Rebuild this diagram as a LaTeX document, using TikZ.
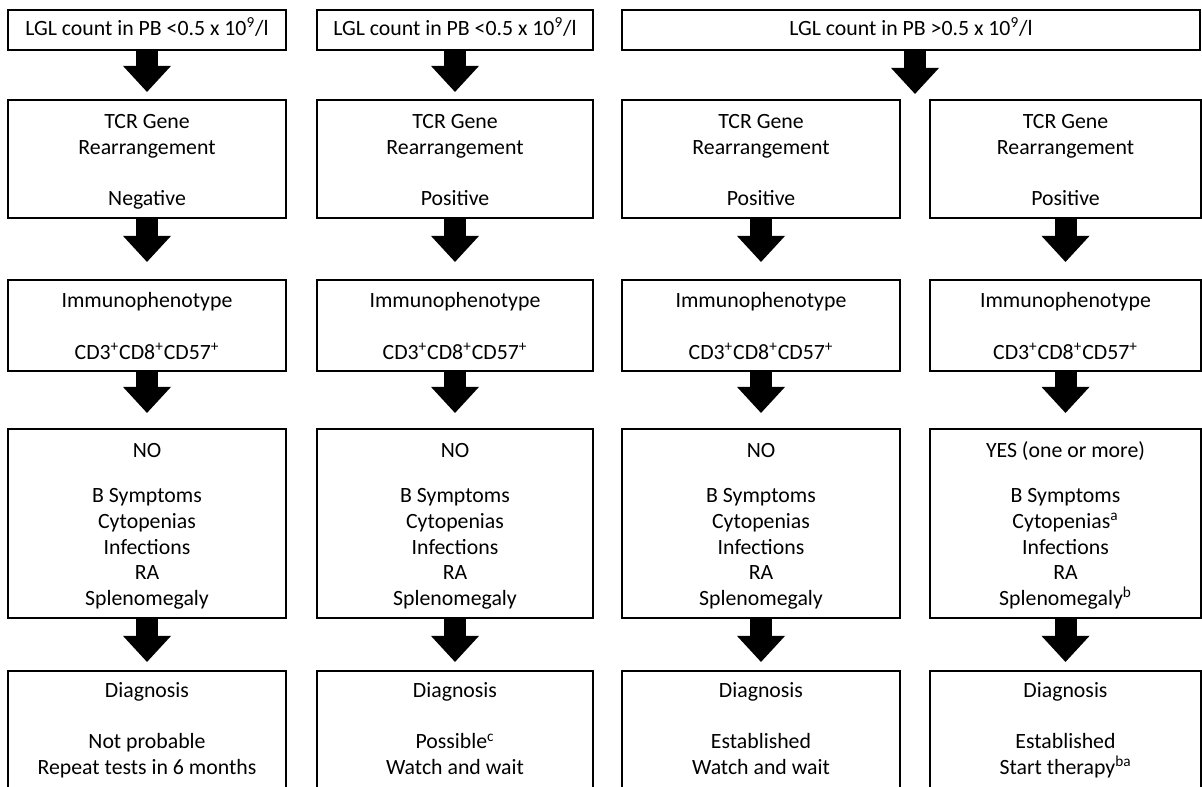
\documentclass[tikz,border=0pt]{standalone}
\usepackage{fontspec}
\setmainfont{Carlito}
\usetikzlibrary{arrows.meta, calc}
\newcommand{\lift}{\rule{0pt}{13.6pt}}

\begin{document}
\begin{tikzpicture}[
  font=\fontsize{12.4}{14.6}\selectfont,
  box/.style={draw=black, line width=1.2pt, align=center, inner sep=0pt,
              execute at end node=\strut},
  hdr/.style={box, minimum height=8mm},
  tcr/.style={box, minimum height=23.6mm},
  imm/.style={box, minimum height=18.2mm},
  sym/.style={box, minimum height=37.8mm},
  dia/.style={box, minimum height=24mm},
  blk/.style={line width=4.4mm,
              -{Triangle[width=9.6mm, length=5.2mm, line width=0pt]}},
]
\useasboundingbox (0,0) rectangle (24.04,15.74);
\clip (0,0) rectangle (24.04,15.74);

% counts
\node[hdr, minimum width=55.6mm] (h1) at (2.94,15.14)
  {\strut LGL count in PB <0.5 x 10\textsuperscript{9}/l};
\node[hdr, minimum width=55.2mm] (h2) at (9.10,15.14)
  {\strut LGL count in PB <0.5 x 10\textsuperscript{9}/l};
\node[hdr, minimum width=115.6mm] (h3) at (18.22,15.14)
  {\strut LGL count in PB >0.5 x 10\textsuperscript{9}/l};

% TCR gene rearrangement
\node[tcr, minimum width=55.6mm] (t1) at (2.94,12.56)
  {\lift TCR Gene\\Rearrangement\\[14.6pt]Negative};
\node[tcr, minimum width=55.2mm] (t2) at (9.10,12.56)
  {\lift TCR Gene\\Rearrangement\\[14.6pt]Positive};
\node[tcr, minimum width=55.6mm] (t3) at (15.22,12.56)
  {\lift TCR Gene\\Rearrangement\\[14.6pt]Positive};
\node[tcr, minimum width=54.2mm] (t4) at (21.31,12.56)
  {\lift TCR Gene\\Rearrangement\\[14.6pt]Positive};

% immunophenotype
\foreach \c/\x/\w in {1/2.94/55.6, 2/9.10/55.2, 3/15.22/55.6, 4/21.31/54.2}{
  \node[imm, minimum width=\w mm] (i\c) at (\x,9.23)
    {\lift Immunophenotype\\[14.6pt]CD3\textsuperscript{+}CD8\textsuperscript{+}CD57\textsuperscript{+}};
}

% symptoms
\node[sym, minimum width=55.6mm] (s1) at (2.94,5.27)
  {\lift NO\\[3.85mm]B Symptoms\\Cytopenias\\Infections\\RA\\Splenomegaly};
\node[sym, minimum width=55.2mm] (s2) at (9.10,5.27)
  {\lift NO\\[3.85mm]B Symptoms\\Cytopenias\\Infections\\RA\\Splenomegaly};
\node[sym, minimum width=55.6mm] (s3) at (15.22,5.27)
  {\lift NO\\[3.85mm]B Symptoms\\Cytopenias\\Infections\\RA\\Splenomegaly};
\node[sym, minimum width=54.2mm] (s4) at (21.31,5.27)
  {\lift YES (one or more)\\[3.85mm]B Symptoms\\Cytopenias\textsuperscript{a}\\Infections\\RA\\Splenomegaly\textsuperscript{b}};

% diagnosis
\node[dia, minimum width=55.6mm] (d1) at (2.94,1.12)
  {\strut Diagnosis\\[14.6pt]Not probable\\Repeat tests in 6 months};
\node[dia, minimum width=55.2mm] (d2) at (9.10,1.12)
  {\strut Diagnosis\\[14.6pt]Possible\textsuperscript{c}\\Watch and wait};
\node[dia, minimum width=55.6mm] (d3) at (15.22,1.12)
  {\strut Diagnosis\\[14.6pt]Established\\Watch and wait};
\node[dia, minimum width=54.2mm] (d4) at (21.31,1.12)
  {\strut Diagnosis\\[14.6pt]Established\\Start therapy\textsuperscript{ba}};

% arrows
\coordinate (fork) at ($(t3.north east)!0.5!(t4.north west)+(0,0.1)$);
\draw[blk] (h1.south) -- ([yshift=1.4mm]t1.north);
\draw[blk] (h2.south) -- ([yshift=1.4mm]t2.north);
\draw[blk] (h3.south -| fork) -- (fork);
\foreach \c in {1,...,4}{
  \draw[blk] (t\c.south) -- ([yshift=3.4mm]i\c.north);
  \draw[blk] (i\c.south) -- ([yshift=3mm]s\c.north);
  \draw[blk] (s\c.south) -- ([yshift=1.6mm]d\c.north);
}
\end{tikzpicture}
\end{document}
